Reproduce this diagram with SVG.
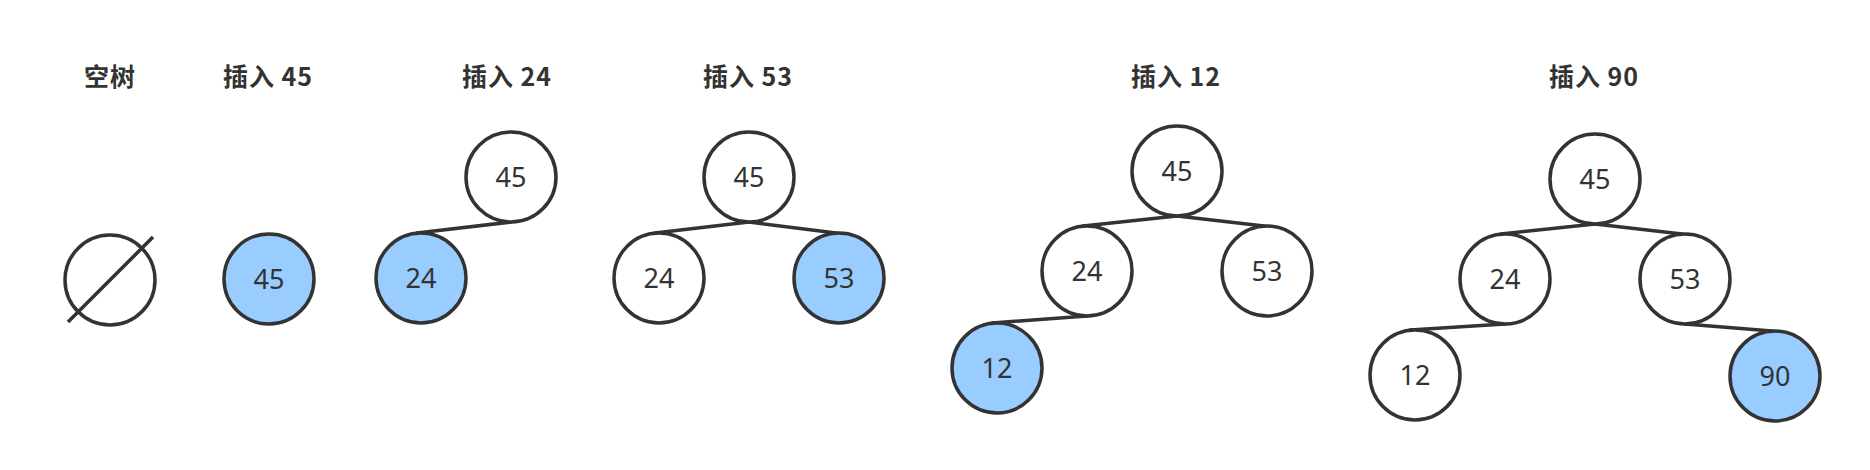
<svg xmlns="http://www.w3.org/2000/svg" width="1870" height="470" viewBox="0 0 1870 470">
<style>
.bg{fill:#ffffff}
.title{font-family:"Noto Sans CJK SC","Noto Sans",sans-serif;font-weight:bold;font-size:25px;fill:#333333;text-anchor:middle;letter-spacing:1px}
.n circle{fill:#ffffff;stroke:#333333;stroke-width:3.5}
.n.hl circle{fill:#99ccff}
.n text{font-family:"Noto Sans","Open Sans",sans-serif;font-size:27px;fill:#333333;text-anchor:middle}
.edges line{stroke:#333333;stroke-width:3.5;stroke-linecap:round}
</style>
<rect class="bg" x="0" y="0" width="1870" height="470"/>
<g id="titles">
<text class="title" x="110" y="86">空树</text>
<text class="title" x="268" y="86">插入 45</text>
<text class="title" x="507" y="86">插入 24</text>
<text class="title" x="748" y="86">插入 53</text>
<text class="title" x="1176" y="86">插入 12</text>
<text class="title" x="1594" y="86">插入 90</text>
</g>
<g id="connectors" class="edges">
<line x1="511" y1="222" x2="417" y2="233"/>
<line x1="749" y1="222" x2="655" y2="233"/>
<line x1="749" y1="222" x2="836" y2="233"/>
<line x1="1177" y1="216" x2="1083" y2="226"/>
<line x1="1177" y1="216" x2="1264" y2="226"/>
<line x1="1087" y1="316" x2="992" y2="323"/>
<line x1="1595" y1="224" x2="1501" y2="234"/>
<line x1="1595" y1="224" x2="1682" y2="234"/>
<line x1="1505" y1="324" x2="1410" y2="330"/>
<line x1="1685" y1="324" x2="1772" y2="331"/>
</g>
<g id="empty" class="n">
<circle cx="110" cy="280" r="45"/>
<line x1="68" y1="322" x2="153" y2="237" stroke="#333333" stroke-width="3.5"/>
</g>
<g id="t1-45" class="n hl"><circle cx="269" cy="279" r="45"/><text x="269" y="289">45</text></g>
<g id="t2-45" class="n"><circle cx="511" cy="177" r="45"/><text x="511" y="187">45</text></g>
<g id="t2-24" class="n hl"><circle cx="421" cy="278" r="45"/><text x="421" y="288">24</text></g>
<g id="t3-45" class="n"><circle cx="749" cy="177" r="45"/><text x="749" y="187">45</text></g>
<g id="t3-24" class="n"><circle cx="659" cy="278" r="45"/><text x="659" y="288">24</text></g>
<g id="t3-53" class="n hl"><circle cx="839" cy="278" r="45"/><text x="839" y="288">53</text></g>
<g id="t4-45" class="n"><circle cx="1177" cy="171" r="45"/><text x="1177" y="181">45</text></g>
<g id="t4-24" class="n"><circle cx="1087" cy="271" r="45"/><text x="1087" y="281">24</text></g>
<g id="t4-53" class="n"><circle cx="1267" cy="271" r="45"/><text x="1267" y="281">53</text></g>
<g id="t4-12" class="n hl"><circle cx="997" cy="368" r="45"/><text x="997" y="378">12</text></g>
<g id="t5-45" class="n"><circle cx="1595" cy="179" r="45"/><text x="1595" y="189">45</text></g>
<g id="t5-24" class="n"><circle cx="1505" cy="279" r="45"/><text x="1505" y="289">24</text></g>
<g id="t5-53" class="n"><circle cx="1685" cy="279" r="45"/><text x="1685" y="289">53</text></g>
<g id="t5-12" class="n"><circle cx="1415" cy="375" r="45"/><text x="1415" y="385">12</text></g>
<g id="t5-90" class="n hl"><circle cx="1775" cy="376" r="45"/><text x="1775" y="386">90</text></g>
</svg>
